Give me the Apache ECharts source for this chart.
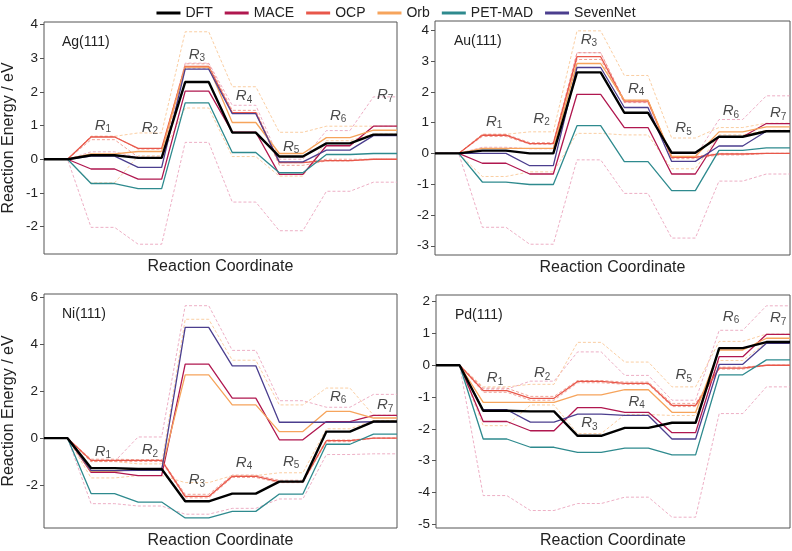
<!doctype html>
<html>
<head>
    <meta charset="utf-8">
    <title>Reaction energy profiles</title>
    <script src="https://cdn.jsdelivr.net/npm/echarts@6/dist/echarts.min.js"></script>
</head>
<body style="margin:0;padding:0">
<div id="tb" style="width:792px;height:551px"></div>
<script>
    // 模型名称和颜色
    var models = ['DFT', 'MACE', 'OCP', 'Orb', 'PET-MAD', 'SevenNet'];
    var colors = ['#000000', '#B0174F', '#E8574A', '#F6A45C', '#2E8A8E', '#4B3E8E'];
    var bandColors = { MACE: '#E99BB6', Orb: '#F9C18C', OCP: '#EE8A7E' };
    var stepLabels = ['1', '2', '3', '4', '5', '6', '7'];

    // 各个表面的能量 (初始态 + R1..R7), eV
    var agEnergy = {
        'DFT':      [0, 0.12, 0.04, 2.29, 0.79, 0.08, 0.47, 0.73],
        'MACE':     [0, -0.29, -0.59, 2.02, 0.80, -0.45, 0.40, 0.98],
        'OCP':      [0, 0.66, 0.32, 2.75, 1.38, -0.10, -0.04, 0.0],
        'Orb':      [0, 0.16, 0.23, 2.73, 1.09, 0.17, 0.64, 0.86],
        'PET-MAD':  [0, -0.72, -0.87, 1.67, 0.20, -0.40, 0.14, 0.17],
        'SevenNet': [0, 0.09, -0.24, 2.67, 1.35, -0.08, 0.27, 0.70]
    };
    var agBands = [
        ['MACE', [0, 0.22, 0.05, 2.85, 1.60, 0.00, 0.85, 1.85]],
        ['MACE', [0, -2.02, -2.52, 0.50, -1.27, -2.12, -0.95, -0.68]],
        ['Orb',  [0, 0.68, 0.78, 3.78, 2.15, 0.80, 0.98, 0.98]],
        ['Orb',  [0, -0.70, 0.10, 1.52, 0.08, -0.50, 0.55, 0.75]],
        ['OCP',  [0, 0.68, 0.30, 2.83, 1.45, -0.10, 0.00, 0.00]],
        ['OCP',  [0, 0.58, 0.06, 2.70, 1.38, -0.18, -0.05, 0.00]]
    ];
    var agLabelY = [1.0, 0.94, 3.1, 1.88, 0.38, 1.3, 1.9];

    var auEnergy = {
        'DFT':      [0, 0.09, 0.0, 2.63, 1.32, 0.02, 0.54, 0.72],
        'MACE':     [0, -0.32, -0.67, 1.92, 0.84, -0.67, 0.54, 0.97],
        'OCP':      [0, 0.59, 0.32, 3.14, 1.70, -0.13, -0.02, 0.0],
        'Orb':      [0, 0.16, 0.16, 2.92, 1.73, -0.10, 0.70, 0.86],
        'PET-MAD':  [0, -0.93, -1.01, 0.90, -0.27, -1.21, 0.10, 0.18],
        'SevenNet': [0, 0.0, -0.40, 2.79, 1.49, -0.26, 0.24, 0.72]
    };
    var auBands = [
        ['MACE', [0, 0.20, 0.15, 3.27, 1.65, -0.10, 1.10, 1.87]],
        ['MACE', [0, -2.40, -2.95, -0.21, -1.30, -2.75, -0.90, -0.67]],
        ['Orb',  [0, 0.62, 0.70, 3.98, 2.53, 0.50, 0.84, 0.98]],
        ['Orb',  [0, -0.75, -0.60, 0.65, 0.60, -0.50, 0.60, 0.75]],
        ['OCP',  [0, 0.62, 0.35, 3.27, 1.72, -0.10, 0.00, 0.00]],
        ['OCP',  [0, 0.55, 0.30, 3.05, 1.65, -0.17, -0.05, 0.00]]
    ];
    var auLabelY = [1.03, 1.13, 3.7, 2.1, 0.82, 1.37, 1.32];

    var niEnergy = {
        'DFT':      [0, -1.28, -1.32, -2.70, -2.37, -1.86, 0.28, 0.71],
        'MACE':     [0, -1.46, -1.60, 3.16, 1.71, -0.07, 0.71, 0.97],
        'OCP':      [0, -0.95, -0.95, -2.49, -1.63, -1.86, -0.11, 0.0],
        'Orb':      [0, -1.42, -1.31, 2.70, 1.42, 0.28, 1.14, 0.86],
        'PET-MAD':  [0, -2.37, -2.73, -3.41, -3.13, -2.39, -0.26, 0.17],
        'SevenNet': [0, -1.39, -1.38, 4.73, 3.09, 0.68, 0.68, 0.70]
    };
    var niBands = [
        ['MACE', [0, -1.00, 0.05, 5.66, 3.75, 1.60, 1.32, 1.87]],
        ['MACE', [0, -2.80, -2.90, -3.25, -3.00, -2.60, -0.70, -0.67]],
        ['Orb',  [0, -1.00, -1.10, 5.08, 3.33, 1.42, 2.14, 0.98]],
        ['Orb',  [0, -1.70, -1.60, -1.90, -1.60, -1.48, 0.40, 0.75]],
        ['OCP',  [0, -0.90, -0.92, -2.40, -1.58, -1.80, -0.08, 0.00]],
        ['OCP',  [0, -1.00, -1.00, -2.55, -1.68, -1.90, -0.15, 0.00]]
    ];
    var niLabelY = [-0.57, -0.5, -1.8, -1.04, -1.0, 1.78, 1.42];

    var pdEnergy = {
        'DFT':      [0, -1.43, -1.45, -2.22, -1.97, -1.81, 0.54, 0.73],
        'MACE':     [0, -1.77, -2.06, -1.33, -1.48, -2.12, 0.27, 0.97],
        'OCP':      [0, -0.80, -1.04, -0.51, -0.57, -1.26, -0.09, 0.0],
        'Orb':      [0, -1.17, -1.17, -0.93, -0.77, -1.48, 0.48, 0.85],
        'PET-MAD':  [0, -2.32, -2.58, -2.74, -2.61, -2.82, -0.30, 0.17],
        'SevenNet': [0, -1.40, -1.79, -1.54, -1.58, -2.32, 0.03, 0.69]
    };
    var pdBands = [
        ['MACE', [0, -0.75, -0.50, 0.42, -0.32, -1.10, 1.10, 1.87]],
        ['MACE', [0, -4.10, -4.57, -4.35, -4.15, -4.78, -1.52, -0.68]],
        ['Orb',  [0, -0.68, -0.60, 0.72, 0.10, -0.68, 0.75, 0.98]],
        ['Orb',  [0, -1.90, -1.25, -2.15, -1.55, -1.58, 0.15, 0.72]],
        ['OCP',  [0, -0.72, -0.98, -0.48, -0.53, -1.20, -0.06, 0.00]],
        ['OCP',  [0, -0.85, -1.10, -0.55, -0.60, -1.30, -0.12, 0.00]]
    ];
    var pdLabelY = [-0.41, -0.25, -1.82, -1.14, -0.3, 1.53, 1.48];

    var panels = [
        { name: 'Ag(111)', energy: agEnergy, bands: agBands, labelY: agLabelY,
          yMin: -2.81, yMax: 4.07, ticks: [-2, -1, 0, 1, 2, 3, 4],
          box: { left: 43, top: 22, width: 354, height: 232 }, yName: true },
        { name: 'Au(111)', energy: auEnergy, bands: auBands, labelY: auLabelY,
          yMin: -3.3, yMax: 4.3, ticks: [-3, -2, -1, 0, 1, 2, 3, 4],
          box: { left: 435, top: 21, width: 355, height: 234 }, yName: false },
        { name: 'Ni(111)', energy: niEnergy, bands: niBands, labelY: niLabelY,
          yMin: -3.84, yMax: 6.16, ticks: [-2, 0, 2, 4, 6],
          box: { left: 43, top: 294, width: 354, height: 234 }, yName: true },
        { name: 'Pd(111)', energy: pdEnergy, bands: pdBands, labelY: pdLabelY,
          yMin: -5.12, yMax: 2.21, ticks: [-5, -4, -3, -2, -1, 0, 1, 2],
          box: { left: 436, top: 295, width: 354, height: 233 }, yName: false }
    ];

    var font = "'Liberation Sans', Arial, sans-serif";

    // 每个状态画成一个水平台阶: [2i, 2i+1]
    function steps(vals) {
        var out = [];
        vals.forEach(function (v, i) {
            out.push([2 * i, v]);
            out.push([2 * i + 1, v]);
        });
        return out;
    }

    var grids = [], xAxes = [], yAxes = [], series = [], titles = [];
    panels.forEach(function (p, k) {
        grids.push({
            left: p.box.left, top: p.box.top, width: p.box.width, height: p.box.height,
            show: true, borderColor: '#555', borderWidth: 1, backgroundColor: 'transparent'
        });
        xAxes.push({
            gridIndex: k, type: 'value', min: 0, max: 15,
            axisLine: { show: false }, axisTick: { show: false },
            axisLabel: { show: false }, splitLine: { show: false },
            name: 'Reaction Coordinate', nameLocation: 'middle', nameGap: 5,
            nameTextStyle: { fontFamily: font, fontSize: 16, color: '#222', verticalAlign: 'top' }
        });
        yAxes.push({
            gridIndex: k, type: 'value', min: p.yMin, max: p.yMax,
            axisLine: { show: false },
            axisTick: { show: true, length: 4, customValues: p.ticks, lineStyle: { color: '#555' } },
            axisLabel: { customValues: p.ticks, fontFamily: font, fontSize: 13.5, color: '#222', margin: 6 },
            splitLine: { show: false },
            name: p.yName ? 'Reaction Energy / eV' : '', nameLocation: 'middle', nameGap: 27,
            nameTextStyle: { fontFamily: font, fontSize: 16, color: '#222' }
        });
        titles.push({
            text: p.name, left: p.box.left + 14, top: p.box.top + 8,
            textStyle: { fontFamily: font, fontSize: 14, fontWeight: 'normal', color: '#222' }
        });
        // 误差带 (虚线)
        p.bands.forEach(function (b) {
            series.push({
                name: 'band', type: 'line', xAxisIndex: k, yAxisIndex: k,
                data: steps(b[1]), symbol: 'none', silent: true, z: 1,
                lineStyle: { color: bandColors[b[0]], width: 0.8, type: [3, 2] }
            });
        });
        // 各模型
        models.forEach(function (m, j) {
            series.push({
                name: m, type: 'line', xAxisIndex: k, yAxisIndex: k,
                data: steps(p.energy[m]), symbol: 'none', silent: true,
                z: m === 'DFT' ? 5 : 3,
                itemStyle: { color: colors[j] },
                lineStyle: { color: colors[j], width: m === 'DFT' ? 2.4 : 1.3 }
            });
        });
        // R1..R7 标签
        series.push({
            name: 'labels', type: 'scatter', xAxisIndex: k, yAxisIndex: k,
            symbolSize: 0, silent: true, z: 6,
            data: p.labelY.map(function (y, i) { return [2 * (i + 1) + 0.5, y, i]; }),
            label: {
                show: true, position: 'inside',
                formatter: function (d) { return '{r|R}{s|' + stepLabels[d.value[2]] + '}'; },
                rich: {
                    r: { fontFamily: font, fontSize: 15, fontStyle: 'italic', color: '#1a1a1a' },
                    s: { fontFamily: font, fontSize: 10, color: '#1a1a1a', verticalAlign: 'bottom', padding: [8, 0, 0, 0] }
                }
            }
        });
    });

    var chart = echarts.init(document.getElementById('tb'));
    chart.setOption({
        animation: false,
        backgroundColor: '#fff',
        title: titles,
        legend: {
            data: models, top: 1, left: 'center',
            icon: 'rect', itemWidth: 24, itemHeight: 3, itemGap: 12,
            textStyle: { fontFamily: font, fontSize: 14, color: '#222' }
        },
        grid: grids,
        xAxis: xAxes,
        yAxis: yAxes,
        series: series
    });
</script>
</body>
</html>
